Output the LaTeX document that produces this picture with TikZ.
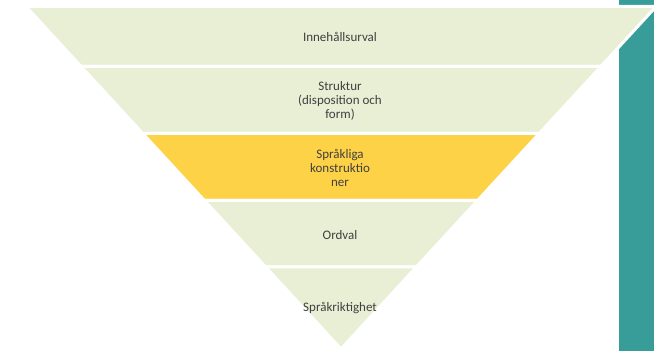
\documentclass[tikz,border=0pt]{standalone}
\usepackage{fontspec}
\setmainfont{Carlito}
\definecolor{bandgreen}{HTML}{E8EFD5}
\definecolor{bandyellow}{HTML}{FED246}
\definecolor{tealbar}{HTML}{389C98}
\definecolor{txtgray}{HTML}{404040}
\tikzset{
  band/.style={draw=white, line width=3pt, line join=miter},
  lbl/.style={text=txtgray, font=\fontsize{13}{13.8}\selectfont, align=center, inner sep=0pt}
}
\begin{document}
\begin{tikzpicture}[x=1pt,y=1pt]
\useasboundingbox (0,0) rectangle (654,351);
\clip (0,0) rectangle (654,351);
\fill[white] (0,0) rectangle (654,351);
\fill[tealbar] (619,0) rectangle (654,351);
% band boundaries (y up): 344.5, 284.5, 217.5, 150.5, 84, apex 2
\path[band, fill=bandgreen] (25.9,344.5) -- (656.1,344.5) -- (600.9,284.5) -- (81.1,284.5) -- cycle;
\path[band, fill=bandgreen] (81.1,284.5) -- (600.9,284.5) -- (539.3,217.5) -- (142.7,217.5) -- cycle;
\path[band, fill=bandyellow] (142.7,217.5) -- (539.3,217.5) -- (477.6,150.5) -- (204.4,150.5) -- cycle;
\path[band, fill=bandgreen] (204.4,150.5) -- (477.6,150.5) -- (416.4,84) -- (265.6,84) -- cycle;
\path[band, fill=bandgreen] (265.6,84) -- (416.4,84) -- (341,2) -- cycle;
\node[lbl] (t1) at (340,314) {Innehållsurval};
\node[lbl] (t2) at (340,250) {Struktur\\(disposition och\\form)};
\node[lbl] (t3) at (340,183) {Språkliga\\konstruktio\\ner};
\node[lbl] (t4) at (340,116) {Ordval};
\node[lbl] (t5) at (340,43) {Språkriktighet};
\end{tikzpicture}
\end{document}
